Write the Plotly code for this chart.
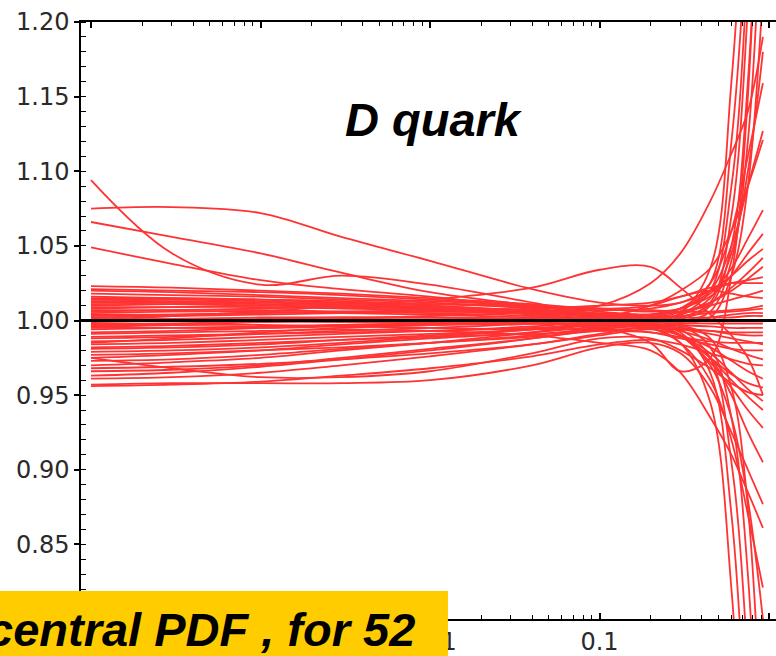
import plotly.graph_objects as go

# x nodes at which each replica ratio is sampled
x_nodes = [1e-4, 3e-4, 1e-3, 3e-3, 1e-2, 0.04, 0.1, 0.2, 0.3, 0.45, 0.6, 0.75, 0.92]

# ratio to the central PDF for each of the 52 replicas (one row per curve)
ratio_rows = [
    [1.094, 1.045, 1.024, 1.030, 1.024, 1.012, 1.004, 1.000, 0.990, 0.975, 0.950, 0.925, 0.905],
    [1.075, 1.076, 1.072, 1.056, 1.040, 1.021, 1.012, 1.010, 1.012, 1.020, 1.030, 1.040, 1.048],
    [1.066, 1.056, 1.045, 1.032, 1.019, 1.010, 1.004, 1.002, 1.004, 1.015, 1.045, 1.100, 1.180],
    [1.049, 1.038, 1.027, 1.021, 1.016, 1.008, 1.002, 0.998, 0.990, 0.970, 0.935, 0.880, 0.800],
    [1.000, 1.003, 1.006, 1.010, 1.014, 1.022, 1.034, 1.036, 1.022, 1.004, 0.990, 0.975, 0.950],
    [0.985, 0.988, 0.992, 0.995, 0.997, 0.998, 0.995, 0.985, 0.966, 0.975, 1.030, 1.150, 1.400],
    [1.010, 1.011, 1.012, 1.012, 1.010, 1.005, 1.000, 0.998, 1.005, 1.035, 1.160, 1.350, 1.700],
    [0.992, 0.993, 0.995, 0.997, 0.998, 0.999, 1.000, 1.002, 1.006, 1.025, 1.120, 1.280, 1.600],
    [1.018, 1.017, 1.016, 1.014, 1.012, 1.008, 1.004, 1.001, 1.004, 1.020, 1.090, 1.240, 1.500],
    [0.975, 0.977, 0.980, 0.984, 0.988, 0.992, 0.996, 0.999, 1.002, 1.012, 1.070, 1.210, 1.450],
    [1.005, 1.006, 1.006, 1.005, 1.004, 1.002, 1.001, 1.000, 1.001, 1.010, 1.050, 1.160, 1.380],
    [0.984, 0.985, 0.987, 0.989, 0.991, 0.994, 0.997, 0.999, 1.000, 1.006, 1.040, 1.120, 1.300],
    [1.013, 1.013, 1.012, 1.011, 1.009, 1.006, 1.003, 1.000, 0.999, 1.002, 1.030, 1.090, 1.220],
    [0.996, 0.997, 0.999, 1.001, 1.003, 1.006, 1.010, 1.025, 1.045, 1.080, 1.112, 1.140, 1.190],
    [0.970, 0.972, 0.975, 0.980, 0.985, 0.992, 0.998, 1.002, 1.008, 1.025, 1.060, 1.110, 1.159],
    [1.021, 1.020, 1.019, 1.017, 1.014, 1.010, 1.006, 1.004, 1.008, 1.020, 1.050, 1.090, 1.127],
    [0.988, 0.989, 0.991, 0.993, 0.995, 0.998, 1.002, 1.010, 1.020, 1.035, 1.060, 1.090, 1.121],
    [1.008, 1.009, 1.010, 1.011, 1.011, 1.010, 1.008, 1.006, 1.008, 1.018, 1.035, 1.055, 1.074],
    [0.979, 0.980, 0.982, 0.985, 0.989, 0.994, 0.999, 1.004, 1.008, 1.016, 1.030, 1.045, 1.058],
    [1.002, 1.003, 1.004, 1.005, 1.006, 1.006, 1.005, 1.004, 1.006, 1.012, 1.022, 1.032, 1.042],
    [0.963, 0.965, 0.969, 0.974, 0.980, 0.988, 0.995, 1.000, 1.004, 1.012, 1.020, 1.028, 1.036],
    [1.015, 1.015, 1.014, 1.013, 1.011, 1.009, 1.007, 1.008, 1.012, 1.020, 1.025, 1.027, 1.029],
    [0.994, 0.995, 0.996, 0.997, 0.998, 1.000, 1.002, 1.004, 1.006, 1.010, 1.014, 1.017, 1.020],
    [1.020, 1.019, 1.017, 1.015, 1.013, 1.010, 1.008, 1.007, 1.006, 1.006, 1.007, 1.008, 1.010],
    [0.981, 0.982, 0.984, 0.987, 0.990, 0.994, 0.998, 1.001, 1.003, 1.005, 1.006, 1.007, 1.008],
    [1.004, 1.004, 1.005, 1.006, 1.006, 1.005, 1.004, 1.003, 1.002, 1.002, 1.002, 1.003, 1.003],
    [0.998, 0.998, 0.999, 0.999, 0.999, 0.998, 0.997, 0.995, 0.994, 0.993, 0.992, 0.992, 0.992],
    [1.011, 1.011, 1.010, 1.009, 1.008, 1.005, 1.002, 0.998, 0.995, 0.993, 0.991, 0.990, 0.990],
    [0.977, 0.978, 0.980, 0.982, 0.985, 0.989, 0.993, 0.995, 0.994, 0.991, 0.988, 0.986, 0.984],
    [1.016, 1.015, 1.014, 1.012, 1.010, 1.006, 1.002, 0.998, 0.993, 0.987, 0.981, 0.977, 0.974],
    [0.968, 0.969, 0.971, 0.974, 0.978, 0.984, 0.990, 0.994, 0.990, 0.982, 0.973, 0.966, 0.961],
    [0.999, 1.000, 1.001, 1.002, 1.002, 1.001, 0.999, 0.996, 0.990, 0.978, 0.965, 0.954, 0.946],
    [0.986, 0.987, 0.989, 0.991, 0.993, 0.996, 0.999, 0.997, 0.990, 0.975, 0.960, 0.949, 0.940],
    [1.012, 1.012, 1.011, 1.010, 1.008, 1.006, 1.003, 0.998, 0.990, 0.972, 0.955, 0.940, 0.928],
    [0.957, 0.958, 0.958, 0.958, 0.960, 0.970, 0.982, 0.985, 0.978, 0.955, 0.925, 0.900, 0.877],
    [0.991, 0.992, 0.993, 0.994, 0.993, 0.990, 0.985, 0.980, 0.965, 0.935, 0.910, 0.885, 0.861],
    [1.007, 1.007, 1.007, 1.006, 1.005, 1.003, 1.000, 0.995, 0.985, 0.960, 0.920, 0.870, 0.821],
    [0.995, 0.995, 0.995, 0.996, 0.997, 0.998, 0.998, 0.995, 0.985, 0.945, 0.820, 0.620, 0.400],
    [0.973, 0.974, 0.977, 0.981, 0.985, 0.990, 0.995, 0.997, 0.992, 0.965, 0.870, 0.700, 0.500],
    [1.009, 1.009, 1.009, 1.008, 1.007, 1.004, 1.001, 0.998, 0.994, 0.975, 0.905, 0.770, 0.550],
    [0.961, 0.962, 0.965, 0.970, 0.976, 0.984, 0.991, 0.996, 0.996, 0.982, 0.935, 0.830, 0.620],
    [1.001, 1.001, 1.002, 1.002, 1.002, 1.001, 1.000, 0.999, 0.997, 0.988, 0.955, 0.875, 0.700],
    [1.023, 1.022, 1.020, 1.018, 1.015, 1.011, 1.008, 1.010, 1.016, 1.020, 1.018, 1.016, 1.015],
    [0.989, 0.990, 0.991, 0.992, 0.993, 0.995, 0.997, 0.999, 1.000, 1.002, 1.004, 1.005, 1.005],
    [0.966, 0.967, 0.970, 0.975, 0.981, 0.988, 0.994, 0.997, 0.998, 0.998, 0.998, 0.998, 0.998],
    [1.006, 1.007, 1.008, 1.009, 1.009, 1.007, 1.004, 1.000, 0.997, 0.996, 0.995, 0.995, 0.995],
    [0.982, 0.983, 0.985, 0.987, 0.989, 0.991, 0.993, 0.992, 0.989, 0.986, 0.985, 0.985, 0.985],
    [0.997, 0.997, 0.997, 0.996, 0.995, 0.994, 0.994, 0.992, 0.988, 0.984, 0.981, 0.980, 0.980],
    [0.956, 0.957, 0.959, 0.963, 0.968, 0.976, 0.984, 0.987, 0.984, 0.978, 0.974, 0.971, 0.970],
    [1.014, 1.014, 1.013, 1.011, 1.009, 1.006, 1.003, 0.998, 0.990, 0.975, 0.964, 0.958, 0.955],
    [0.975, 0.968, 0.962, 0.962, 0.966, 0.978, 0.988, 0.988, 0.980, 0.968, 0.958, 0.952, 0.950],
    [1.003, 1.004, 1.005, 1.006, 1.007, 1.008, 1.010, 1.012, 1.016, 1.022, 1.025, 1.025, 1.025],
]

# decade ticks; labels lying under the caption box are left blank
x_tick_vals = [1e-4, 1e-3, 1e-2, 0.1, 1]
x_tick_text = ["", "", "0.01", "0.1", "1"]
x_minor_vals = [m * 10.0 ** e for e in range(-4, 0) for m in range(2, 10)]
y_tick_vals = [0.80, 0.85, 0.90, 0.95, 1.00, 1.05, 1.10, 1.15, 1.20]
y_tick_text = ["", "0.85", "0.90", "0.95", "1.00", "1.05", "1.10", "1.15", "1.20"]

title_text = "D quark"
box_text = "central PDF , for 52"

fig = go.Figure()
for row in ratio_rows:
    fig.add_trace(go.Scatter(
        x=x_nodes, y=row, mode="lines",
        line=dict(color="#ff3333", width=1.8, shape="spline", smoothing=1.0),
        hoverinfo="skip", showlegend=False,
    ))

# unit-ratio reference line across the full plot width
fig.add_shape(type="line", xref="paper", yref="y", x0=0, x1=1, y0=1.0, y1=1.0,
              line=dict(color="black", width=3), layer="above")

# yellow caption box in the lower-left corner
fig.add_shape(type="rect", xref="paper", yref="paper",
              x0=-0.2, x1=0.528, y0=-0.1, y1=0.0469,
              fillcolor="#ffcc00", line=dict(width=0), layer="above")

fig.add_annotation(text=box_text, xref="paper", yref="paper",
                   x=0.484, y=-0.018, xanchor="right", yanchor="middle",
                   showarrow=False,
                   font=dict(family="Liberation Sans", size=47, color="black",
                             weight="bold", style="italic"))

fig.add_annotation(text=title_text, xref="paper", yref="paper",
                   x=0.508, y=0.836, xanchor="center", yanchor="middle",
                   showarrow=False,
                   font=dict(family="Liberation Sans", size=47, color="black",
                             weight="bold", style="italic"))

tick_font = dict(family="DejaVu Sans", size=24, color="#2a2a2a")

fig.update_xaxes(
    type="log", range=[-4.059, 0.041], automargin=False,
    tickmode="array", tickvals=x_tick_vals, ticktext=x_tick_text,
    ticks="inside", ticklen=6, tickwidth=1.5, tickcolor="black",
    minor=dict(tickmode="array", tickvals=x_minor_vals, ticks="inside",
               ticklen=4, tickwidth=1.2, tickcolor="black", showgrid=False),
    showline=True, linecolor="black", linewidth=1.5, mirror="allticks",
    showgrid=False, zeroline=False, tickfont=tick_font,
)
fig.update_yaxes(
    range=[0.80, 1.20], automargin=False,
    tickmode="array", tickvals=y_tick_vals, ticktext=y_tick_text,
    ticks="outside", ticklen=5, tickwidth=1.5, tickcolor="black",
    minor=dict(dtick=0.01, tick0=0.8, ticks="inside", ticklen=5,
               tickwidth=1.2, tickcolor="black", showgrid=False),
    showline=True, linecolor="black", linewidth=1.5, mirror=False,
    showgrid=False, zeroline=False, tickfont=tick_font,
)

fig.update_layout(
    width=776, height=656, template="none",
    margin=dict(l=81, r=0, t=22, b=37, pad=0),
    paper_bgcolor="white", plot_bgcolor="white", showlegend=False,
)

fig.write_html("out.html")
